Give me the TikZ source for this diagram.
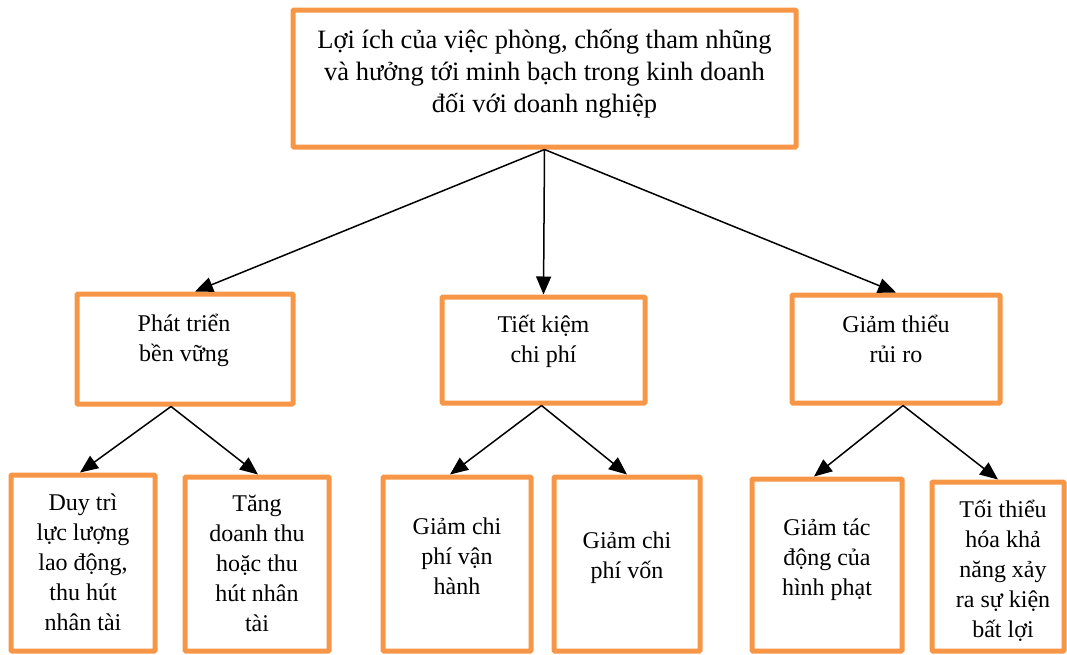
\documentclass[tikz,border=0pt]{standalone}
\usepackage{fontspec}
\setmainfont{Liberation Serif}
\usetikzlibrary{arrows.meta}
\definecolor{boxorange}{HTML}{F79646}
\begin{document}
\begin{tikzpicture}[x=1pt,y=-1pt,
  box/.style={draw=boxorange, line width=5pt, rectangle, rounded corners=1pt, inner sep=0pt, fill=white},
  lbl/.style={anchor=base, align=center, font=\fontsize{24}{30}\selectfont, inner sep=0pt},
  toplbl/.style={lbl, font=\fontsize{26.5}{32}\selectfont},
  arr/.style={-{Triangle[length=18pt,width=15pt]}, line width=1.5pt, draw=black}]
\useasboundingbox (0,0) rectangle (1067,654);
% boxes
\node[box, minimum width=503pt, minimum height=137pt] (T) at (544.5,78.5) {};
\node[box, minimum width=216pt, minimum height=110pt] (A) at (185,349) {};
\node[box, minimum width=203pt, minimum height=106pt] (B) at (543.5,350) {};
\node[box, minimum width=208pt, minimum height=108pt] (C) at (896,349) {};
\node[box, minimum width=144pt, minimum height=176pt] (A1) at (83,563) {};
\node[box, minimum width=144pt, minimum height=174pt] (A2) at (257,564) {};
\node[box, minimum width=148pt, minimum height=174pt] (B1) at (457,564) {};
\node[box, minimum width=146pt, minimum height=174pt] (B2) at (627,564) {};
\node[box, minimum width=150pt, minimum height=172pt] (C1) at (827,565) {};
\node[box, minimum width=132pt, minimum height=169pt] (C2) at (998,566.5) {};
% texts (anchor = baseline of the last line)
\node[toplbl] (Tt) at (544.5,112) {Lợi ích của việc phòng, chống tham nhũng\\và hưởng tới minh bạch trong kinh doanh\\đối với doanh nghiệp};
\node[lbl] (At) at (184,361) {Phát triển\\bền vững};
\node[lbl] (Bt) at (543.5,362) {Tiết kiệm\\chi phí};
\node[lbl] (Ct) at (896,362) {Giảm thiểu\\rủi ro};
\node[lbl] (A1t) at (83,630) {Duy trì\\lực lượng\\lao động,\\thu hút\\nhân tài};
\node[lbl] (A2t) at (257,631) {Tăng\\doanh thu\\hoặc thu\\hút nhân\\tài};
\node[lbl] (B1t) at (457,594) {Giảm chi\\phí vận\\hành};
\node[lbl] (B2t) at (627,578) {Giảm chi\\phí vốn};
\node[lbl] (C1t) at (827,595) {Giảm tác\\động của\\hình phạt};
\node[lbl] (C2t) at (1003,637) {Tối thiểu\\hóa khả\\năng xảy\\ra sự kiện\\bất lợi};
% connectors
\draw[arr] (T.south) -- ([xshift=10pt]A.north);
\draw[arr] (T.south) -- (B.north);
\draw[arr] (T.south) -- (C.north);
\draw[arr] ([xshift=-14pt]A.south) -- ([xshift=-3pt]A1.north);
\draw[arr] ([xshift=-14pt]A.south) -- ([xshift=1pt]A2.north);
\draw[arr] ([xshift=-2pt]B.south) -- ([xshift=-7pt]B1.north);
\draw[arr] ([xshift=-2pt]B.south) -- (B2.north);
\draw[arr] ([xshift=7pt]C.south) -- ([xshift=-13pt]C1.north);
\draw[arr] ([xshift=7pt]C.south) -- (C2.north);
\end{tikzpicture}
\end{document}
